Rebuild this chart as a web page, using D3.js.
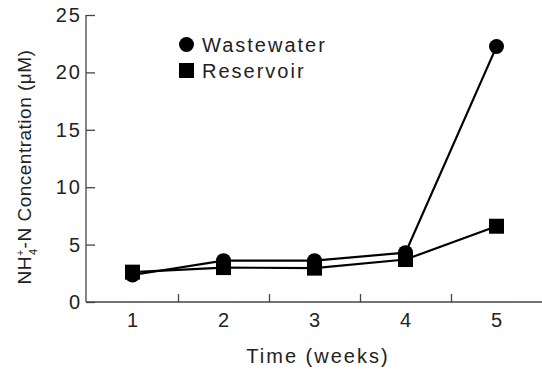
<!DOCTYPE html>
<html>
<head>
<meta charset="utf-8">
<script src="https://cdn.jsdelivr.net/npm/d3@7"></script>
<style>
  body { margin: 0; background: #fff; }
  text { font-family: "Liberation Sans", Arial, sans-serif; fill: #222; }
</style>
</head>
<body>
<div id="chart"></div>
<script>
let weeks = [1, 2, 3, 4, 5]
let wastewater = [2.35, 3.6, 3.6, 4.3, 22.25]
let reservoir = [2.6, 3.0, 2.95, 3.7, 6.6]
let yTicks = [0, 5, 10, 15, 20, 25]
let xMinorTicks = [1.5, 2.5, 3.5, 4.5]
let seriesNames = ["Wastewater", "Reservoir"]

width = 542
height = 373
axisColor = "#444"
axisX = 86

svg = d3.select("#chart").append("svg")
    .attr("width", width)
    .attr("height", height)

x = d3.scaleLinear().domain([0.5, 5.5]).range([87, 542])
y = d3.scaleLinear().domain([0, 25]).range([302, 15])

// y axis, ticks pointing inward
yAxis = svg.append("g")
    .attr("transform", "translate(" + axisX + ",0)")
    .call(d3.axisRight(y).tickValues(yTicks).tickSize(9).tickFormat(""))
yAxis.select(".domain").attr("d", "M0," + y(25) + "V" + y(0))
yAxis.selectAll("line, path").attr("stroke", axisColor).attr("stroke-width", 1.3)

yAxis.selectAll(".tickLabel")
    .data(yTicks)
    .enter()
    .append("text")
    .attr("x", -4)
    .attr("y", d => y(d) + 7)
    .attr("text-anchor", "end")
    .style("font-size", "20px")
    .style("letter-spacing", "2px")
    .text(d => d)

// x axis, minor ticks between weeks pointing up
xAxis = svg.append("g")
    .attr("transform", "translate(0," + y(0) + ")")
    .call(d3.axisTop(x).tickValues(xMinorTicks).tickSize(8).tickFormat(""))
xAxis.select(".domain").attr("d", "M" + axisX + ",0H" + width)
xAxis.selectAll("line, path").attr("stroke", axisColor).attr("stroke-width", 1.3)

xAxis.selectAll(".tickLabel")
    .data(weeks)
    .enter()
    .append("text")
    .attr("x", d => x(d))
    .attr("y", 25)
    .attr("text-anchor", "middle")
    .style("font-size", "20px")
    .text(d => d)

svg.append("text")
    .attr("x", 318)
    .attr("y", 363)
    .attr("text-anchor", "middle")
    .style("font-size", "20px")
    .style("letter-spacing", "2px")
    .text("Time (weeks)")

yLabel = svg.append("text")
    .attr("transform", "translate(31,167) rotate(-90)")
    .attr("text-anchor", "middle")
    .style("font-size", "19px")
    .style("letter-spacing", "0.5px")
yLabel.append("tspan").text("NH")
yLabel.append("tspan").attr("dy", -7).style("font-size", "11px").text("+")
yLabel.append("tspan").attr("dy", 13).attr("dx", -6).style("font-size", "11px").text("4")
yLabel.append("tspan").attr("dy", -6).text("-N Concentration (\u03bcM)")

line = d3.line()
    .x((d, i) => x(weeks[i]))
    .y(d => y(d))

svg.append("path")
    .datum(wastewater)
    .attr("d", line)
    .attr("fill", "none")
    .attr("stroke", "#000")
    .attr("stroke-width", 2.2)

svg.append("path")
    .datum(reservoir)
    .attr("d", line)
    .attr("fill", "none")
    .attr("stroke", "#000")
    .attr("stroke-width", 2.2)

svg.selectAll(".wCircle")
    .data(wastewater)
    .enter()
    .append("circle")
    .attr("cx", (d, i) => x(weeks[i]))
    .attr("cy", d => y(d))
    .attr("r", 7.5)
    .attr("fill", "#000")

svg.selectAll(".rSquare")
    .data(reservoir)
    .enter()
    .append("rect")
    .attr("x", (d, i) => x(weeks[i]) - 7.5)
    .attr("y", d => y(d) - 7.5)
    .attr("width", 15)
    .attr("height", 15)
    .attr("fill", "#000")

// legend
legend = svg.append("g")
legend.append("circle").attr("cx", 186.5).attr("cy", 44.5).attr("r", 7.5).attr("fill", "#000")
legend.append("rect").attr("x", 179).attr("y", 63).attr("width", 15).attr("height", 15).attr("fill", "#000")
legend.selectAll(".legText")
    .data(seriesNames)
    .enter()
    .append("text")
    .attr("x", 202)
    .attr("y", (d, i) => 51.5 + i * 26.5)
    .style("font-size", "20px")
    .style("letter-spacing", "2px")
    .text(d => d)
</script>
</body>
</html>
